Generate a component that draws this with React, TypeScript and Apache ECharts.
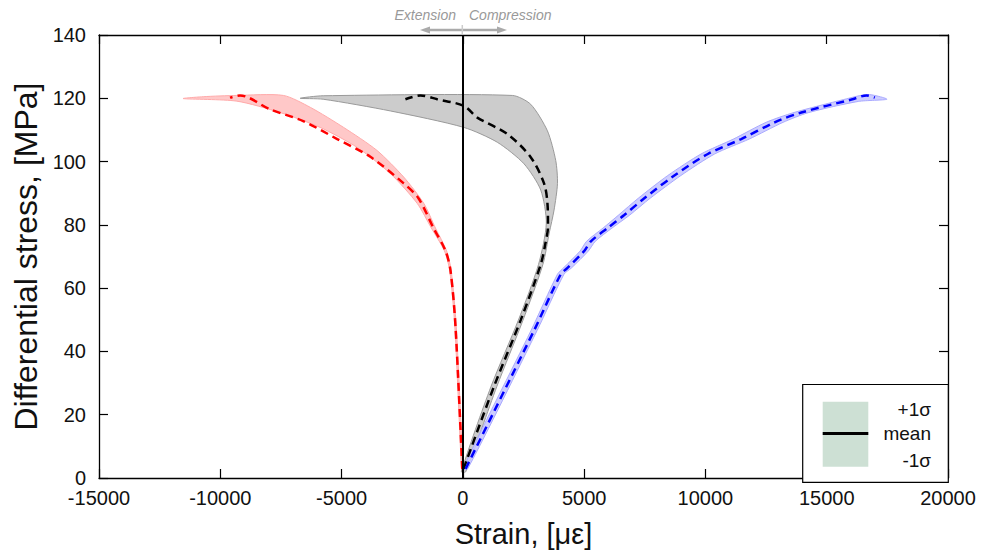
import React, { useEffect, useRef } from "react";
import * as echarts from "echarts";

const FONT = "'Liberation Sans', Arial, sans-serif";

// X axis ticks (strain) and Y axis ticks (stress)
const xTicks = { min: -15000, max: 20000, step: 5000 };
const yTicks = { min: 0, max: 140, step: 20 };

// Extension (red) — mean curve
const redStress = [2.9, 47.7, 65.5, 71.8, 79.0, 88.4, 93.1, 101.5, 107.1, 112.8, 116.5, 120.9, 120.2];
const redMean = [-25, -302, -508, -715, -1211, -1830, -2438, -3814, -5178, -6582, -7946, -9186, -9600];
// Extension ±1σ band outline
const redBandStrain = [0, -270, -480, -670, -1130, -1611, -2438, -3537, -4917, -6280, -7396, -9322, -10702, -11528,
  -9322, -7533, -5884, -4363, -2987, -1884, -1300, -760, -540, -330, -50];
const redBandStress = [2, 47.7, 65.5, 71.8, 79, 86.8, 95.1, 103.5, 110.8, 117.1, 120.9, 120.9, 120.5, 119.9,
  119.1, 115.5, 110.8, 104.5, 96.2, 86.8, 79, 71.8, 65.5, 47.7, 2];

// Black (gray band) — mean curve
const blackStress = [2.9, 28.9, 49.9, 67.5, 74.0, 79.5, 86.8, 93.1, 101.4, 108.7, 113.9, 117.6, 119.7, 120.9, 119.7];
const blackMean = [30, 1281, 2384, 3211, 3400, 3510, 3487, 3347, 2797, 1835, 595, 41, -1058, -1748, -2368];
const grayBandStrain = [120, 1400, 2480, 3300, 3560, 3760, 3901, 3830, 3487, 2797, 2041, -5756, -6706,
  -5756, -2987, 41, 1421, 2520, 3211, 3440, 3120, 2290, 1160, -60];
const grayBandStress = [2, 28.9, 49.9, 67.5, 77.4, 84.7, 93.1, 100.3, 109.7, 118.1, 120.9, 120.8, 120.0,
  119.7, 116.0, 110.8, 106.1, 99.3, 91.0, 80.5, 67.5, 49.9, 28.9, 2];

// Compression (blue) — mean curve
const blueStress = [2.9, 46.6, 64.4, 66.4, 71.7, 74.8, 79.0, 83.1, 88.4, 95.6, 102.4, 107.1, 112.4, 115.5, 119.6, 120.9, 120.2];
const blueMean = [111, 2934, 4037, 4314, 5000, 5277, 5967, 6653, 7479, 8719, 10099, 11475, 12851, 13954, 16020, 16640, 16983];
const blueBandStrain = [200, 3060, 4170, 4480, 5170, 5460, 6150, 6880, 7720, 8990, 10380, 11800, 13200, 14260, 16300, 17479,
  16700, 15700, 13650, 12500, 11150, 9820, 8450, 7230, 6420, 5780, 5100, 4830, 4150, 3900, 2810, 0];
const blueBandStress = [2.9, 46.6, 64.4, 66.4, 71.7, 74.8, 79.0, 83.1, 88.4, 95.6, 102.4, 107.1, 112.4, 115.5, 119.0, 119.7,
  121.2, 119.6, 115.5, 112.4, 107.1, 102.4, 95.6, 88.4, 83.1, 79.0, 74.8, 71.7, 66.4, 64.4, 46.6, 2.9];

const legendLabels = ["+1σ", "mean", "-1σ"];

const pairs = (xs: number[], ys: number[]) => xs.map((x, i) => [x, ys[i]]);

function bandSeries(xs: number[], ys: number[], fill: string, stroke: string) {
  const data = pairs(xs, ys);
  return {
    type: "custom",
    silent: true,
    z: 1,
    data,
    encode: { x: 0, y: 1 },
    renderItem: (params: any, api: any) => {
      if (params.dataIndex !== 0) return null;
      const pts = data.map((p) => api.coord(p));
      return {
        type: "polygon",
        shape: { points: pts, smooth: 0.25 },
        style: { fill, stroke, lineWidth: 1 },
      };
    },
  };
}

function meanSeries(xs: number[], ys: number[], color: string) {
  return {
    type: "line",
    data: pairs(xs, ys),
    showSymbol: false,
    symbol: "none",
    smooth: 0.3,
    z: 3,
    silent: true,
    lineStyle: { color, width: 2.5, type: [8, 5] },
  };
}

const plainNumber = (v: number) => String(v);

export default function App() {
  const ref = useRef<HTMLDivElement>(null);
  useEffect(() => {
    if (!ref.current) return;
    const chart = echarts.init(ref.current, null, { renderer: "svg" });
    const axisLine = { show: true, onZero: false, lineStyle: { color: "#000", width: 1.3 } };
    const tick = { show: true, inside: true, length: 9, lineStyle: { color: "#000", width: 1.2 } };
    const option: any = {
      animation: false,
      backgroundColor: "#fff",
      grid: { left: 99, right: 39, top: 35, bottom: 71 },
      xAxis: [
        {
          type: "value",
          position: "bottom",
          min: xTicks.min,
          max: xTicks.max,
          interval: xTicks.step,
          axisLine,
          axisTick: tick,
          splitLine: { show: false },
          axisLabel: { fontSize: 20, color: "#111", margin: 10, fontFamily: FONT, formatter: plainNumber },
          name: "Strain, [με]",
          nameLocation: "middle",
          nameGap: 41,
          nameTextStyle: { fontSize: 29, color: "#111", fontFamily: FONT },
        },
        {
          type: "value",
          position: "top",
          min: xTicks.min,
          max: xTicks.max,
          interval: xTicks.step,
          axisLine,
          axisTick: tick,
          splitLine: { show: false },
          axisLabel: { show: false },
        },
      ],
      yAxis: [
        {
          type: "value",
          position: "left",
          min: yTicks.min,
          max: yTicks.max,
          interval: yTicks.step,
          axisLine,
          axisTick: tick,
          splitLine: { show: false },
          axisLabel: { fontSize: 20, color: "#111", margin: 13, fontFamily: FONT, formatter: plainNumber },
          name: "Differential stress, [MPa]",
          nameLocation: "middle",
          nameGap: 52,
          nameTextStyle: { fontSize: 32, color: "#111", fontFamily: FONT },
        },
        {
          type: "value",
          position: "right",
          min: yTicks.min,
          max: yTicks.max,
          interval: yTicks.step,
          axisLine,
          axisTick: tick,
          splitLine: { show: false },
          axisLabel: { show: false },
        },
      ],
      series: [
        bandSeries(redBandStrain, redBandStress, "rgba(255,190,190,0.85)", "#ffaaaa"),
        bandSeries(grayBandStrain, grayBandStress, "#cccccc", "#9a9a9a"),
        bandSeries(blueBandStrain, blueBandStress, "rgba(200,200,255,0.9)", "#aaaaff"),
        {
          type: "line",
          data: [],
          z: 2,
          markLine: {
            silent: true,
            symbol: "none",
            label: { show: false },
            lineStyle: { color: "#000", width: 2, type: "solid" },
            data: [{ xAxis: 0 }],
          },
        },
        meanSeries(redMean, redStress, "#ff0000"),
        meanSeries(blackMean, blackStress, "#000000"),
        meanSeries(blueMean, blueStress, "#0000ff"),
      ],
      graphic: [
        // Extension / Compression annotation
        { type: "text", x: 456, y: 15, style: { text: "Extension", fill: "#999", font: `italic 14px ${FONT}`, align: "right", verticalAlign: "middle" } },
        { type: "text", x: 469, y: 15, style: { text: "Compression", fill: "#999", font: `italic 14px ${FONT}`, align: "left", verticalAlign: "middle" } },
        { type: "line", shape: { x1: 426, y1: 30, x2: 501, y2: 30 }, style: { stroke: "#aaaaaa", lineWidth: 2.5 } },
        { type: "polygon", shape: { points: [[420, 30], [430, 26.5], [430, 33.5]] }, style: { fill: "#aaaaaa" } },
        { type: "polygon", shape: { points: [[507, 30], [497, 26.5], [497, 33.5]] }, style: { fill: "#aaaaaa" } },
        { type: "line", shape: { x1: 462.3, y1: 25, x2: 462.3, y2: 34 }, style: { stroke: "#cccccc", lineWidth: 1.5 } },
        // Legend box
        { type: "rect", z: 10, shape: { x: 802.7, y: 384.5, width: 145.6, height: 97.8 }, style: { fill: "#fff", stroke: "#000", lineWidth: 1.2 } },
        { type: "rect", z: 11, shape: { x: 822.7, y: 401.7, width: 45.6, height: 65 }, style: { fill: "#cde0d4" } },
        { type: "line", z: 12, shape: { x1: 822.7, y1: 433.5, x2: 868.3, y2: 433.5 }, style: { stroke: "#000", lineWidth: 3 } },
        { type: "text", z: 12, x: 931, y: 409.5, style: { text: legendLabels[0], fill: "#111", font: `19px ${FONT}`, align: "right", verticalAlign: "middle" } },
        { type: "text", z: 12, x: 931, y: 433, style: { text: legendLabels[1], fill: "#111", font: `19px ${FONT}`, align: "right", verticalAlign: "middle" } },
        { type: "text", z: 12, x: 931, y: 460, style: { text: legendLabels[2], fill: "#111", font: `19px ${FONT}`, align: "right", verticalAlign: "middle" } },
      ],
    };
    chart.setOption(option);
    return () => chart.dispose();
  }, []);
  return (
    <div
      ref={ref}
      style={{ position: "fixed", left: 0, top: 0, width: 987, height: 553, background: "#fff" }}
    />
  );
}
